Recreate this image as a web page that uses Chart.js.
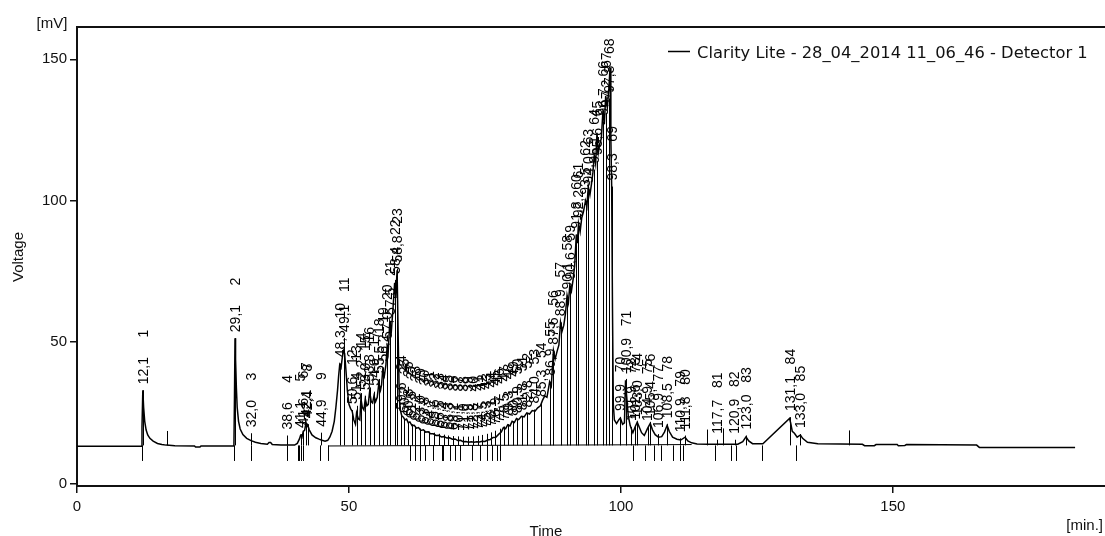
<!DOCTYPE html>
<html>
<head>
<meta charset="utf-8">
<script src="https://cdn.jsdelivr.net/npm/chart.js@4/dist/chart.umd.min.js"></script>
<style>
  body { margin: 0; background: #fff; }
  canvas { display: block; }
</style>
</head>
<body>
<canvas id="grafico" width="1105" height="536"></canvas>
<script>
// chromatogram trace (min, mV)
const traceTime = [
  0, 11.8, 11.95, 12.1, 12.25, 12.45, 12.7, 13.0, 13.4, 14.0, 14.8, 15.6, 16.4, 18.0, 21.6, 21.8, 22.6, 22.8,
  28.85, 28.95, 29.05, 29.15, 29.3, 29.45, 29.7, 30.0, 30.5, 31.2, 32.0, 32.8, 33.8, 35.0, 35.3, 35.6, 35.9, 37.5,
  40.0, 40.5, 40.9, 41.1, 41.35, 41.6, 41.85, 42.1, 42.25, 42.4, 42.7, 43.2, 43.9, 44.5, 44.9, 45.6, 46.1, 46.5,
  46.9, 47.3, 47.6, 47.9, 48.1, 48.3, 48.55, 48.8, 49.0, 49.2, 49.45, 49.7, 50.0, 50.3, 50.6, 50.9, 51.2, 51.4,
  51.7, 52.0, 52.2, 52.45, 52.75, 53.0, 53.3, 53.55, 53.8, 54.1, 54.35, 54.6, 54.9, 55.2, 55.5, 55.8, 56.0, 56.2,
  56.5, 56.8, 57.0, 57.2, 57.5, 57.8, 58.1, 58.4, 58.6, 58.85, 59.05, 59.25, 59.45, 59.7, 60.0, 60.3, 60.6, 60.9,
  61.2, 61.6, 62.0, 62.4, 62.8, 63.2, 63.7, 64.1, 64.6, 65.0, 65.5, 66.0, 66.5, 67.0, 67.5, 68.0, 68.5, 69.0, 69.5,
  70.0, 70.5, 71.0, 71.5, 72.0, 72.5, 73.0, 73.5, 74.0, 74.5, 75.0, 75.5, 76.0, 76.5, 77.0, 77.5, 78.0, 78.4, 78.8,
  79.2, 79.6, 80.0, 80.4, 80.8, 81.2, 81.7, 82.2, 82.7, 83.2, 83.7, 84.2, 84.7, 85.2, 85.6, 86.0, 86.4, 86.9, 87.2,
  87.6, 87.9, 88.3, 88.6, 88.9, 89.2, 89.5, 89.8, 90.1, 90.35, 90.6, 90.9, 91.2, 91.5, 91.8, 92.0, 92.2, 92.5, 92.8,
  93.1, 93.5, 93.75, 94.0, 94.3, 94.6, 94.85, 95.1, 95.35, 95.6, 95.85, 96.1, 96.4, 96.7, 96.95, 97.2, 97.5, 97.8,
  98.0, 98.15, 98.3, 98.45, 98.6, 98.8, 99.2, 99.6, 99.9, 100.3, 100.65, 100.85, 101.05, 101.35, 101.7, 101.9,
  102.2, 102.6, 103.0, 103.4, 103.8, 104.3, 104.9, 105.4, 105.8, 106.3, 106.9, 107.5, 108.0, 108.5, 108.9, 109.5,
  110.3, 111.0, 111.8, 112.3, 113.0, 114.0, 116.0, 121.5, 122.4, 123.0, 123.5, 124.2, 126.1, 131.0, 131.2, 131.5,
  131.9, 132.4, 133.0, 133.4, 134.3, 136.2, 144.4, 144.8, 146.6, 146.9, 150.8, 151.0, 152.2, 152.5, 165.4, 165.9,
  183.5
];
const traceMv = [
  13.2, 13.2, 20, 33, 27, 22, 19, 17.2, 16.0, 15.0, 14.2, 13.8, 13.6, 13.4, 13.3, 12.9, 12.9, 13.3,
  13.3, 30, 51.4, 44, 34, 27, 22, 19.3, 17.3, 16.0, 15.2, 14.6, 14.2, 13.9, 14.5, 14.5, 13.8, 13.6,
  13.6, 14.2, 15.8, 17, 16.3, 18.5, 18.8, 21.5, 20.2, 20.8, 19, 17.2, 16.2, 15.7, 15.4, 15.0, 15.3, 16.5,
  18.5, 22, 27, 33, 38, 42, 41, 45, 47, 46, 40, 33, 28, 26.5, 25.5, 22.5, 21, 25,
  23, 22.5, 30, 27, 26, 30, 27.5, 28, 32.5, 29, 28.5, 31, 29, 30.5, 35.5, 33, 35, 40,
  38, 42, 48, 46, 57, 54, 62, 71, 66, 75.4, 52, 30, 26, 24, 23.5, 22.5, 22.8, 21.5,
  21.8, 20.5, 20.6, 19.6, 19.8, 18.8, 19, 18.2, 18.3, 17.6, 17.6, 17.0, 17.1, 16.5, 16.6, 16.1, 16.2, 15.7, 15.8,
  15.2, 15.3, 14.8, 14.9, 14.6, 14.8, 14.6, 14.8, 14.7, 15.0, 14.9, 15.4, 15.6, 16.3, 16.4, 17.4, 18.2, 19.8, 19.4,
  20.8, 20.4, 22, 21.6, 23, 22.6, 23.8, 23.6, 25, 24.6, 25.8, 25.6, 26.8, 27.5, 29.5, 31, 30.5, 36, 34.5,
  47, 44, 47, 49, 57, 54, 56, 60, 66.5, 64, 70, 68, 72, 77, 88, 85, 92, 89, 94,
  96, 100, 98, 105, 102, 106, 110, 116, 113, 124, 117, 120, 122, 132, 127, 137, 133, 140,
  147, 122, 105, 62, 28, 22.5, 21.2, 22.5, 23.2, 21, 21.5, 36.5, 31, 24, 20.6, 19.5,
  18, 20, 21.7, 19.8, 18, 17, 19.5, 21.3, 19, 17.3, 16.4, 16.6, 18.2, 20.6, 18.4, 16.4,
  15.7, 15.4, 16.4, 15.1, 14.4, 14.0, 13.9, 13.9, 14.8, 16.5, 15.1, 14.1, 14.1, 23, 21.5, 18.5,
  17.8, 16.4, 17.2, 16, 14.6, 14.1, 13.9, 13.4, 13.4, 13.8, 13.8, 13.4, 13.5, 13.8, 13.6, 12.8,
  12.8
];

// integrated peaks: retention time (min) and drawn height (mV); peak number = index + 1
const peakTimes = [
  12.1, 29.1, 32.0, 38.6, 41.1, 41.6, 42.1, 42.4, 44.9, 48.3, 49.1, 50.6, 51.4, 52.2, 53.0, 53.8, 54.6, 55.5, 56.2, 57.0,
  57.5, 58.4, 58.8, 59.6, 60.2, 60.8, 61.5, 62.2, 63.0, 63.8, 64.7, 65.6, 66.5, 67.4, 68.3, 69.2, 70.1, 71.0, 71.9, 72.8,
  73.7, 74.5, 75.3, 76.1, 76.9, 77.7, 78.5, 79.3, 80.1, 80.9, 81.8, 82.8, 84.0, 85.3, 86.9, 87.6, 88.9, 90.1, 90.6, 91.8,
  92.2, 93.5, 94.0, 95.1, 95.6, 96.7, 97.2, 97.8, 98.3, 99.9, 100.9, 101.9, 102.6, 103.0, 104.9, 105.4, 106.9, 108.5, 110.9, 111.8,
  117.7, 120.9, 123.0, 131.1, 133.0
];
const peakHeights = [
  33, 51.4, 17.8, 17, 17.5, 18.5, 21.5, 21, 18, 42.5, 51.5, 26, 27.5, 32, 31, 34, 32.5, 37, 41, 49,
  57.5, 72, 76, 24, 22.8, 21.8, 21, 20.2, 19.5, 18.9, 18.4, 18, 17.6, 17.3, 17, 16.8, 16.7, 16.6, 16.6, 16.7,
  16.9, 17.2, 17.6, 18.1, 18.7, 19.4, 20.2, 21, 21.9, 22.8, 23.8, 24.8, 26.2, 28.5, 36, 47, 57, 66.5, 70, 88,
  92, 100, 104, 111, 114, 128, 131, 136, 105, 23.5, 37, 20, 20.5, 22, 20, 21.8, 17.5, 21, 16, 17,
  15.5, 15.5, 17, 23.5, 17.5
];
// peak start/end marks below the baseline
const boundaryTimes = [
  11.9, 28.9, 32.0, 38.6, 40.6, 40.9, 41.2, 41.6, 44.7, 46.1, 61.2, 62.2, 63.1, 64.0, 65.5, 67.1, 67.3, 68.6, 69.5, 70.4,
  72.6, 74.1, 75.4, 76.3, 77.2, 77.8, 102.3, 104.5, 106.0, 107.4, 109.5, 110.9, 111.5, 117.3, 120.2, 121.1, 126.0, 132.2
];
// event marks above the baseline
const eventTimes = [16.5, 115.9, 118.8, 142.0];
const eventHeights = [18.6, 19.1, 19.5, 18.8];

const baselineLevel = 13.5;
const boundaryDepth = 8.0;
const baselineTime = [46.2, 113.0];
const baselineMv = [13.3, 13.8];

const xTicks = [0, 50, 100, 150];
const yTicks = [0, 50, 100, 150];

const legendText = 'Clarity Lite - 28_04_2014 11_06_46 - Detector 1';

const fonte = '"Liberation Sans", Arial, sans-serif';
Chart.defaults.font.family = fonte;
Chart.defaults.font.size = 15;
Chart.defaults.color = '#111';

const pontos = traceTime.map((t, i) => ({ x: t, y: traceMv[i] }));
const linhaBase = baselineTime.map((t, i) => ({ x: t, y: baselineMv[i] }));

const anotacoes = {
  id: 'anotacoes',
  afterDatasetsDraw(chart) {
    const { ctx } = chart;
    const x = chart.scales.x, y = chart.scales.y;
    ctx.save();
    ctx.strokeStyle = '#000';
    ctx.lineWidth = 1;
    ctx.beginPath();
    const yb = y.getPixelForValue(baselineLevel);
    peakTimes.forEach((t, i) => {
      const px = Math.round(x.getPixelForValue(t)) + 0.5;
      ctx.moveTo(px, yb);
      ctx.lineTo(px, y.getPixelForValue(peakHeights[i]));
    });
    boundaryTimes.forEach(t => {
      const px = Math.round(x.getPixelForValue(t)) + 0.5;
      ctx.moveTo(px, yb);
      ctx.lineTo(px, y.getPixelForValue(boundaryDepth));
    });
    eventTimes.forEach((t, i) => {
      const px = Math.round(x.getPixelForValue(t)) + 0.5;
      ctx.moveTo(px, yb);
      ctx.lineTo(px, y.getPixelForValue(eventHeights[i]));
    });
    ctx.stroke();

    // rotated peak labels: time, then number right-aligned in a 3 digit field
    ctx.font = '14px ' + fonte;
    ctx.fillStyle = '#000';
    const espaco = ctx.measureText(' ').width;
    const campo = ctx.measureText('000').width;
    peakTimes.forEach((t, i) => {
      const txt = t.toFixed(1).replace('.', ',');
      const px = x.getPixelForValue(t) + 1;
      const py = y.getPixelForValue(peakHeights[i]) - 6;
      ctx.save();
      ctx.translate(px, py);
      ctx.rotate(-Math.PI / 2);
      ctx.textBaseline = 'middle';
      ctx.textAlign = 'left';
      ctx.fillText(txt, 0, 0);
      ctx.textAlign = 'right';
      ctx.fillText(String(i + 1), ctx.measureText(txt).width + espaco + campo, 0);
      ctx.restore();
    });
    ctx.restore();
  },
  afterDraw(chart) {
    const { ctx, chartArea } = chart;
    ctx.save();
    // top of frame
    ctx.strokeStyle = '#111';
    ctx.lineWidth = 2;
    ctx.beginPath();
    ctx.moveTo(chartArea.left - 1, chartArea.top);
    ctx.lineTo(chartArea.right, chartArea.top);
    ctx.stroke();

    // legend
    ctx.strokeStyle = '#000';
    ctx.lineWidth = 1.5;
    ctx.beginPath();
    ctx.moveTo(668, 51.5);
    ctx.lineTo(690, 51.5);
    ctx.stroke();
    ctx.fillStyle = '#111';
    let tam = 15.5;
    ctx.font = tam + 'px "DejaVu Sans", sans-serif';
    tam = tam * 391 / ctx.measureText(legendText).width;
    ctx.font = tam.toFixed(2) + 'px "DejaVu Sans", sans-serif';
    ctx.textBaseline = 'alphabetic';
    ctx.textAlign = 'left';
    ctx.fillText(legendText, 697, 57.5);

    // axis titles and units
    ctx.font = '15px ' + fonte;
    ctx.textAlign = 'center';
    ctx.fillText('[mV]', 52, 28);
    ctx.fillText('Time', 546, 536);
    ctx.textAlign = 'right';
    ctx.fillText('[min.]', 1103, 530);
    ctx.save();
    ctx.translate(19, 257);
    ctx.rotate(-Math.PI / 2);
    ctx.textAlign = 'center';
    ctx.textBaseline = 'middle';
    ctx.fillText('Voltage', 0, 0);
    ctx.restore();
    ctx.restore();
  }
};

new Chart(document.getElementById('grafico'), {
  type: 'line',
  data: {
    datasets: [{
      data: pontos,
      borderColor: '#000',
      borderWidth: 1.5,
      pointRadius: 0,
      tension: 0
    }, {
      data: linhaBase,
      borderColor: '#000',
      borderWidth: 1,
      pointRadius: 0
    }]
  },
  options: {
    responsive: false,
    animation: false,
    layout: { padding: { top: 27, right: 0, left: 0, bottom: 0 } },
    plugins: { legend: { display: false }, tooltip: { enabled: false } },
    scales: {
      x: {
        type: 'linear',
        min: 0,
        max: 189,
        afterBuildTicks: s => { s.ticks = xTicks.map(v => ({ value: v })); },
        afterFit: s => { s.height = 50; },
        grid: { drawOnChartArea: false, drawTicks: true, tickLength: 7, color: '#111', lineWidth: 1.5 },
        border: { display: true, color: '#111', width: 2 },
        ticks: { padding: 5, maxRotation: 0, color: '#111' }
      },
      y: {
        min: -0.85,
        max: 161.4,
        afterBuildTicks: s => { s.ticks = yTicks.map(v => ({ value: v })); },
        afterFit: s => { s.width = 77; },
        grid: { drawOnChartArea: false, drawTicks: true, tickLength: 7, color: '#111', lineWidth: 1.5 },
        border: { display: true, color: '#111', width: 2 },
        ticks: { padding: 3, color: '#111' }
      }
    }
  },
  plugins: [anotacoes]
});
</script>
</body>
</html>
